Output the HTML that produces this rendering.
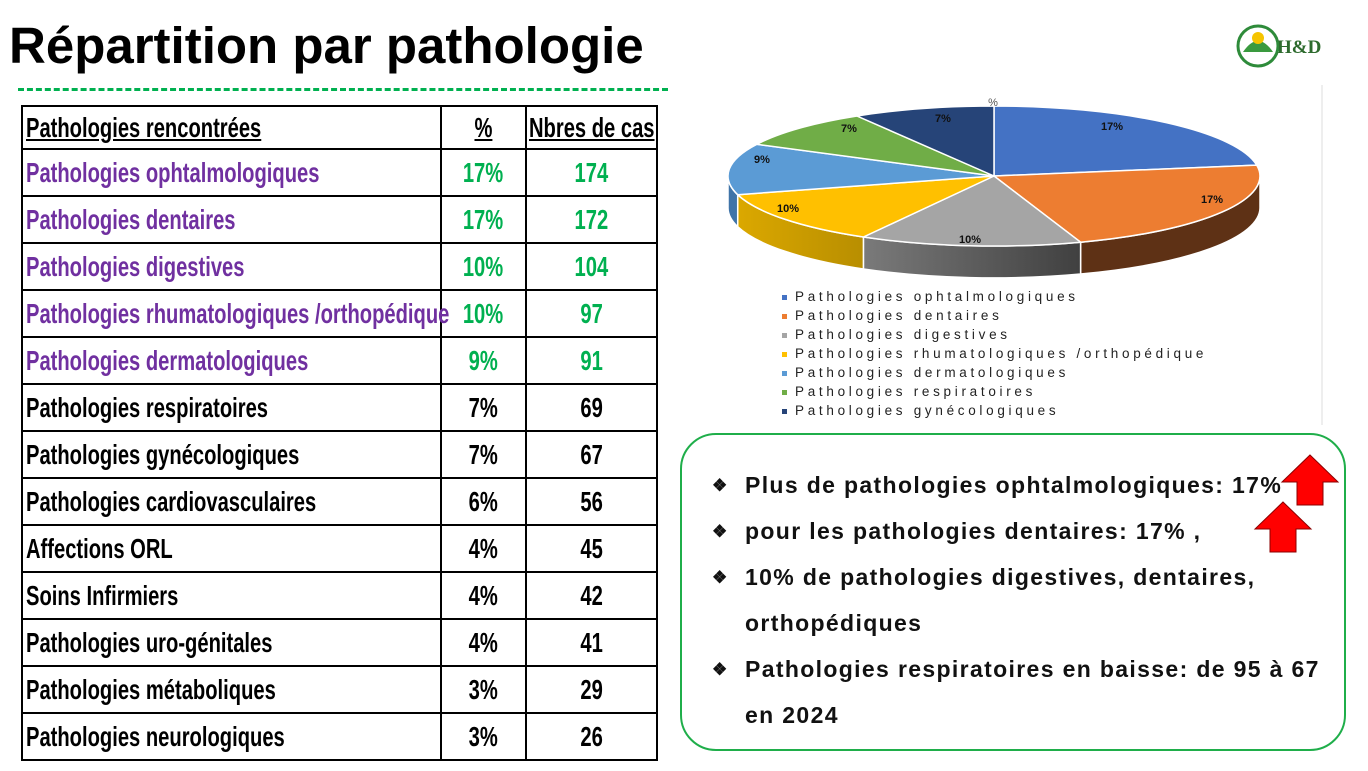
<!DOCTYPE html>
<html><head><meta charset="utf-8"><style>
body{margin:0;width:1368px;height:771px;background:#fff;position:relative;overflow:hidden;font-family:"Liberation Sans",sans-serif}
.t{position:absolute;left:9px;top:16px;font-size:51px;font-weight:bold;color:#000}
.dash{position:absolute;left:18px;top:88px;width:650px;border-top:3px dashed #00b050}
table{position:absolute;left:21px;top:105px;border-collapse:collapse;table-layout:fixed;width:635px}
td{border:2px solid #000;height:47px;padding:0 0 0 3px;font-weight:bold;font-size:28px;white-space:nowrap;overflow:visible;box-sizing:border-box}
tr.h td{height:43px}
td span{display:inline-block;transform:scaleX(.72);transform-origin:left center;width:0;overflow:visible}
td.c span{transform-origin:center center;width:auto}
td.c{text-align:center;padding:0}
.p{color:#7030a0}.g{color:#00b050}
.leg{position:absolute;left:782px;font-size:13.5px;letter-spacing:3.7px;color:#222}
.leg i{display:inline-block;width:5px;height:5px;margin-right:8px;vertical-align:middle}
.box{position:absolute;left:680px;top:433px;width:662px;height:314px;border:2.5px solid #1fae4a;border-radius:36px}
.b{position:absolute;left:712px;font-size:23px;letter-spacing:1.35px;font-weight:bold;color:#111;white-space:nowrap}
.b s{text-decoration:none;display:inline-block;width:33px;font-size:17px;vertical-align:2px;letter-spacing:0}
</style></head><body>
<div class="t">Répartition par pathologie</div>
<div class="dash"></div>
<table>
<colgroup><col style="width:419px"><col style="width:85px"><col style="width:131px"></colgroup>
<tr class="h"><td><span style="text-decoration:underline;width:auto">Pathologies rencontrées</span></td><td class="c"><span style="text-decoration:underline">%</span></td><td style="padding-left:2px"><span style="text-decoration:underline;width:auto">Nbres de cas</span></td></tr>
<tr><td class="p"><span>Pathologies ophtalmologiques</span></td><td class="c g"><span>17%</span></td><td class="c g"><span>174</span></td></tr>
<tr><td class="p"><span>Pathologies dentaires</span></td><td class="c g"><span>17%</span></td><td class="c g"><span>172</span></td></tr>
<tr><td class="p"><span>Pathologies digestives</span></td><td class="c g"><span>10%</span></td><td class="c g"><span>104</span></td></tr>
<tr><td class="p"><span>Pathologies rhumatologiques /orthopédique</span></td><td class="c g"><span>10%</span></td><td class="c g"><span>97</span></td></tr>
<tr><td class="p"><span>Pathologies dermatologiques</span></td><td class="c g"><span>9%</span></td><td class="c g"><span>91</span></td></tr>
<tr><td><span>Pathologies respiratoires</span></td><td class="c"><span>7%</span></td><td class="c"><span>69</span></td></tr>
<tr><td><span>Pathologies gynécologiques</span></td><td class="c"><span>7%</span></td><td class="c"><span>67</span></td></tr>
<tr><td><span>Pathologies cardiovasculaires</span></td><td class="c"><span>6%</span></td><td class="c"><span>56</span></td></tr>
<tr><td><span>Affections ORL</span></td><td class="c"><span>4%</span></td><td class="c"><span>45</span></td></tr>
<tr><td><span>Soins Infirmiers</span></td><td class="c"><span>4%</span></td><td class="c"><span>42</span></td></tr>
<tr><td><span>Pathologies uro-génitales</span></td><td class="c"><span>4%</span></td><td class="c"><span>41</span></td></tr>
<tr><td><span>Pathologies métaboliques</span></td><td class="c"><span>3%</span></td><td class="c"><span>29</span></td></tr>
<tr><td><span>Pathologies neurologiques</span></td><td class="c"><span>3%</span></td><td class="c"><span>26</span></td></tr>
</table>

<svg style="position:absolute;left:0;top:0" width="1368" height="771">
<defs>
<linearGradient id="gg" x1="0" x2="1"><stop offset="0" stop-color="#7a7a7a"/><stop offset="1" stop-color="#404040"/></linearGradient>
<linearGradient id="yg" x1="0" x2="1"><stop offset="0" stop-color="#dba800"/><stop offset="1" stop-color="#b88e00"/></linearGradient>
</defs>
<line x1="1322" y1="85" x2="1322" y2="425" stroke="#ddd"/>
<g stroke="#fff" stroke-width="1.5">
<path d="M1260,176 A266,70 0 0 1 1080.6,242.2 L1080.6,274 A266,70 0 0 0 1260,208 Z" fill="#5e3115"/>
<path d="M1080.6,242.2 A266,70 0 0 1 863.4,237 L863.4,269 A266,70 0 0 0 1080.6,274 Z" fill="url(#gg)"/>
<path d="M863.4,237 A266,70 0 0 1 737.7,194.7 L737.7,226.7 A266,70 0 0 0 863.4,269 Z" fill="url(#yg)"/>
<path d="M737.7,194.7 A266,70 0 0 1 728,176 L728,208 A266,70 0 0 0 737.7,226.7 Z" fill="#3f74a8"/>
<path d="M994,176 L994,106 A266,70 0 0 1 1256.7,165.1 Z" fill="#4472c4"/>
<path d="M994,176 L1256.7,165.1 A266,70 0 0 1 1080.6,242.2 Z" fill="#ed7d31"/>
<path d="M994,176 L1080.6,242.2 A266,70 0 0 1 863.4,237 Z" fill="#a5a5a5"/>
<path d="M994,176 L863.4,237 A266,70 0 0 1 737.7,194.7 Z" fill="#ffc000"/>
<path d="M994,176 L737.7,194.7 A266,70 0 0 1 756.8,144.3 Z" fill="#5b9bd5"/>
<path d="M994,176 L756.8,144.3 A266,70 0 0 1 857,116 Z" fill="#70ad47"/>
<path d="M994,176 L857,116 A266,70 0 0 1 994,106 Z" fill="#264478"/>
</g>
<g font-size="11" font-weight="bold" fill="#111" text-anchor="middle" font-family="Liberation Sans">
<text x="1112" y="130">17%</text><text x="1212" y="203">17%</text><text x="970" y="243">10%</text>
<text x="788" y="212">10%</text><text x="762" y="163">9%</text><text x="849" y="132">7%</text><text x="943" y="122">7%</text>
<text x="993" y="106" font-weight="normal" fill="#555">%</text>
</g>
<g transform="translate(1282,455)"><path d="M28,0 L56,27 L41,27 L41,50 L15,50 L15,27 L0,27 Z" fill="#f00" stroke="#8b0000" stroke-width="1"/></g>
<g transform="translate(1255,502)"><path d="M28,0 L56,27 L41,27 L41,50 L15,50 L15,27 L0,27 Z" fill="#f00" stroke="#8b0000" stroke-width="1"/></g>
<circle cx="1258" cy="46" r="20" fill="none" stroke="#2e8b3a" stroke-width="3"/>
<path d="M1243,52 Q1258,30 1273,52 Z" fill="#3a9a3f"/>
<circle cx="1258" cy="38" r="6" fill="#f5c400"/>
<text x="1277" y="53" font-size="19" font-weight="bold" fill="#2e6b2e" font-family="Liberation Serif">H&amp;D</text>
</svg>

<div class="leg" style="top:289px"><i style="background:#4472c4"></i>Pathologies ophtalmologiques</div>
<div class="leg" style="top:308px"><i style="background:#ed7d31"></i>Pathologies dentaires</div>
<div class="leg" style="top:327px"><i style="background:#a5a5a5"></i>Pathologies digestives</div>
<div class="leg" style="top:346px"><i style="background:#ffc000"></i>Pathologies rhumatologiques /orthopédique</div>
<div class="leg" style="top:365px"><i style="background:#5b9bd5"></i>Pathologies dermatologiques</div>
<div class="leg" style="top:384px"><i style="background:#70ad47"></i>Pathologies respiratoires</div>
<div class="leg" style="top:403px"><i style="background:#264478"></i>Pathologies gynécologiques</div>

<div class="box"></div>
<div class="b" style="top:472px"><s>❖</s>Plus de pathologies ophtalmologiques: 17%</div>
<div class="b" style="top:518px"><s>❖</s>pour les pathologies dentaires: 17% ,</div>
<div class="b" style="top:564px"><s>❖</s>10% de pathologies digestives, dentaires,</div>
<div class="b" style="top:610px"><s></s>orthopédiques</div>
<div class="b" style="top:656px"><s>❖</s>Pathologies respiratoires en baisse: de 95 à 67</div>
<div class="b" style="top:702px"><s></s>en 2024</div>
</body></html>
